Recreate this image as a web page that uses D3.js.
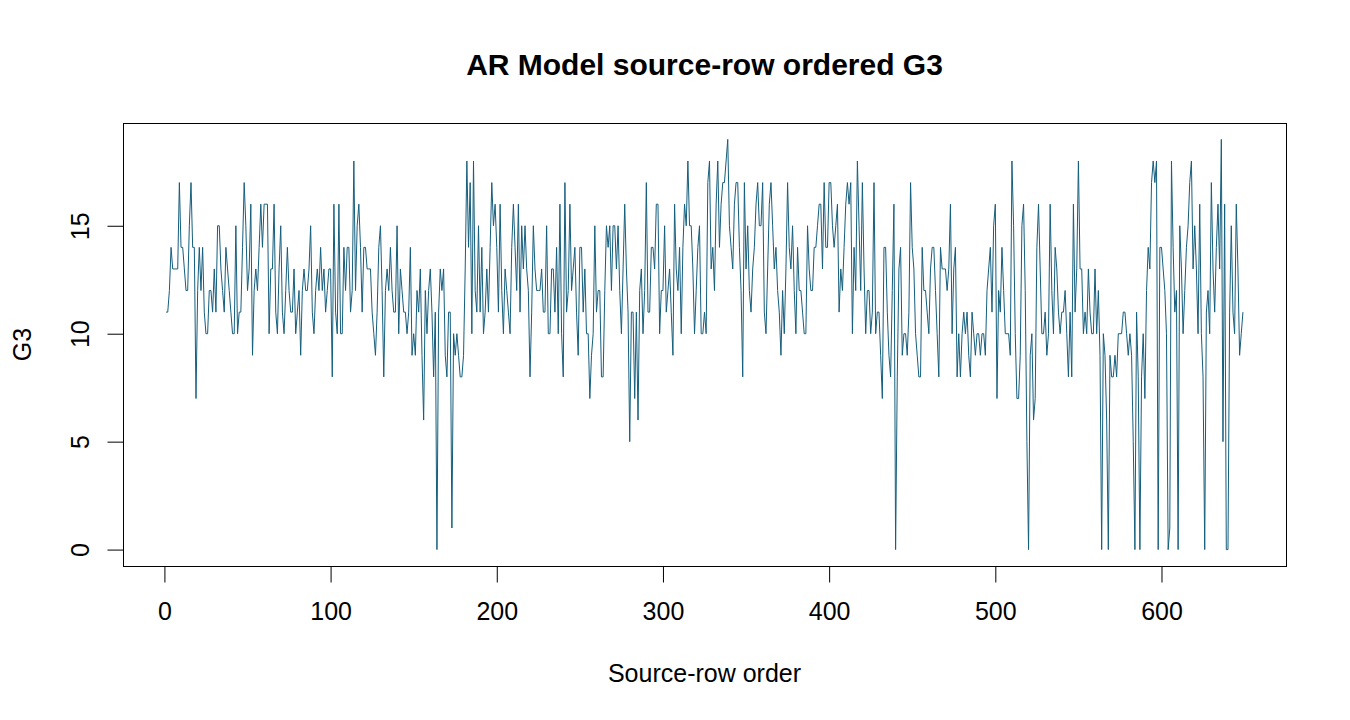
<!DOCTYPE html>
<html>
<head>
<meta charset="utf-8">
<script src="https://cdn.jsdelivr.net/npm/d3@7"></script>
<style>
  body { margin: 0; background: #fff; }
  svg { display: block; font-family: "Liberation Sans", Arial, sans-serif; }
</style>
</head>
<body>
<div id="chart"></div>
<script>
const width = 1350;
const height = 720;

// G3 per source row (rows 1..649)
const g3 = [
  11,11,12,14,13,13,13,13,17,14, 14,13,12,12,15,17,14,14,7,12,
  14,12,14,11,10,10,12,12,11,13, 11,15,15,13,12,11,14,13,12,11,
  10,10,15,10,11,11,14,17,15,12, 13,16,9,12,13,12,14,
  16,14,16,16,16,10,13,13,16,11, 10,13,15,11,10,12,14,12,11,11,
  13,10,11,12,9,12,13,12,12,13, 15,11,10,12,13,12,14,12,13,11,
  12,13,13,8,16,11,10,16,10,10, 14,12,14,14,11,12,18,12,15,
  16,14,11,14,14,13,13,13,11,10, 9,11,14,15,12,8,12,13,12,14,
  12,11,11,15,10,13,12,11,11,10, 11,14,9,10,9,12,11,13,9,6,
  12,10,12,13,11,8,11,0,11,13, 12,13,9,8,11,11,1,10,9,
  10,9,8,8,9,13,18,14,17,10, 18,12,11,15,11,14,10,11,13,11,
  14,17,15,16,14,11,16,12,10,13, 12,11,10,14,16,14,12,16,11,15,
  13,15,13,12,8,11,15,13,12,12, 12,13,11,11,15,10,10,13,13,11,
  14,10,16,10,8,17,11,12,16,12, 13,14,11,9,14,14,11,13,10,10,
  7,9,10,15,11,12,12,8,8,12, 15,14,15,12,15,15,13,15,12,10,
  13,16,13,11,5,11,11,7,11,6, 12,13,10,12,17,11,11,14,14,
  13,16,16,10,12,12,15,11,12,13, 11,9,16,13,12,14,10,14,16,15,
  18,15,15,13,10,12,14,15,10,10, 11,10,17,18,13,14,12,16,18,14,
  16,17,17,18,19,15,14,13,16,17, 17,14,12,8,17,13,15,12,11,13,
  14,16,17,15,15,17,11,10,13,16, 17,15,13,14,12,11,9,12,10,13,
  17,14,13,15,12,10,14,12,12,11, 10,10,15,13,12,12,14,14,15,16,
  16,13,17,14,14,17,17,15,14,15, 16,11,13,12,14,16,17,16,17,
  10,14,12,18,15,12,17,13,10,12, 12,10,11,17,10,11,11,9,7,14,
  14,11,9,8,12,16,0,8,13,14, 9,10,10,9,11,17,14,13,10,9,
  8,8,14,12,12,11,10,13,14,14, 12,10,8,14,13,13,13,12,13,16,
  10,13,14,8,10,8,10,11,10,11, 9,8,11,10,9,10,10,9,10,10,
  9,12,13,14,11,15,16,7,12,11, 14,12,10,10,10,9,18,15,10,7,
  7,9,15,16,12,5,0,9,10,6, 7,14,16,13,10,10,11,9,10,
  16,12,10,14,13,11,10,11,11,12, 10,8,11,8,16,11,13,18,13,13,
  10,11,10,13,11,10,10,13,10,12, 9,0,10,9,6,0,9,8,8,9,
  8,10,10,10,11,11,10,9,10,9, 5,0,11,8,0,8,10,7,12,14,
  13,17,18,17,18,0,14,14,13,12, 10,0,1,18,14,11,12,0,15,13,
  10,12,14,15,17,18,13,15,13,10, 16,10,8,0,11,12,10,17,13,11,
  14,16,13,19,5,16,0,0,11,15, 11,10,16,13,9,10,11
];
const rowOrder = d3.range(1, g3.length + 1);

const xTicks = [0, 100, 200, 300, 400, 500, 600];
const yTicks = [0, 5, 10, 15];

const chartTitle = "AR Model source-row ordered G3";
const xTitle = "Source-row order";
const yTitle = "G3";

const box = { left: 123, right: 1286, top: 123, bottom: 566 };

// R style 4% padding around the data range
const xMin = d3.min(rowOrder), xMax = d3.max(rowOrder);
const yMin = d3.min(g3), yMax = d3.max(g3);
const xPad = (xMax - xMin) * 0.04;
const yPad = (yMax - yMin) * 0.04;

const x = d3.scaleLinear()
    .domain([xMin - xPad, xMax + xPad])
    .range([box.left, box.right]);

const y = d3.scaleLinear()
    .domain([yMin - yPad, yMax + yPad])
    .range([box.bottom, box.top]);

const svg = d3.select("#chart")
    .append("svg")
    .attr("width", width)
    .attr("height", height);

// series line
svg.append("path")
    .datum(rowOrder)
    .attr("fill", "none")
    .attr("stroke", "#155e7c")
    .attr("stroke-width", 1)
    .attr("d", d3.line()
        .x(d => x(d))
        .y((d, i) => y(g3[i]))
    );

// plot box
svg.append("rect")
    .attr("x", box.left + 0.5)
    .attr("y", box.top + 0.5)
    .attr("width", box.right - box.left)
    .attr("height", box.bottom - box.top)
    .attr("fill", "none")
    .attr("stroke", "#000")
    .attr("stroke-width", 1);

// bottom axis
const xAxis = svg.append("g")
    .attr("transform", `translate(0, ${box.bottom + 0.5})`)
    .call(d3.axisBottom(x).tickValues(xTicks).tickSize(16).tickPadding(20).tickSizeOuter(0));

// left axis, labels rotated like R's default
const yAxis = svg.append("g")
    .attr("transform", `translate(${box.left + 0.5}, 0)`)
    .call(d3.axisLeft(y).tickValues(yTicks).tickSize(16).tickSizeOuter(0));

xAxis.select(".domain").attr("d", `M${x(xTicks[0])},0H${x(xTicks[xTicks.length - 1])}`);
yAxis.select(".domain").attr("d", `M0,${y(yTicks[0])}V${y(yTicks[yTicks.length - 1])}`);

svg.selectAll(".domain, .tick line")
    .attr("stroke", "#000")
    .attr("stroke-width", 1);

xAxis.selectAll(".tick text")
    .attr("font-size", 25)
    .attr("font-family", "Liberation Sans, Arial, sans-serif")
    .attr("fill", "#000");

yAxis.selectAll(".tick text")
    .attr("font-size", 25)
    .attr("font-family", "Liberation Sans, Arial, sans-serif")
    .attr("fill", "#000")
    .attr("x", null)
    .attr("dy", null)
    .attr("text-anchor", "middle")
    .attr("transform", "translate(-35, 0) rotate(-90)");

// titles
svg.append("text")
    .attr("x", (box.left + box.right) / 2)
    .attr("y", 75)
    .attr("text-anchor", "middle")
    .attr("font-size", 30)
    .attr("font-weight", "bold")
    .text(chartTitle);

svg.append("text")
    .attr("x", (box.left + box.right) / 2)
    .attr("y", 682)
    .attr("text-anchor", "middle")
    .attr("font-size", 25)
    .text(xTitle);

svg.append("text")
    .attr("transform", `translate(31, ${(box.top + box.bottom) / 2}) rotate(-90)`)
    .attr("text-anchor", "middle")
    .attr("font-size", 25)
    .text(yTitle);
</script>
</body>
</html>
